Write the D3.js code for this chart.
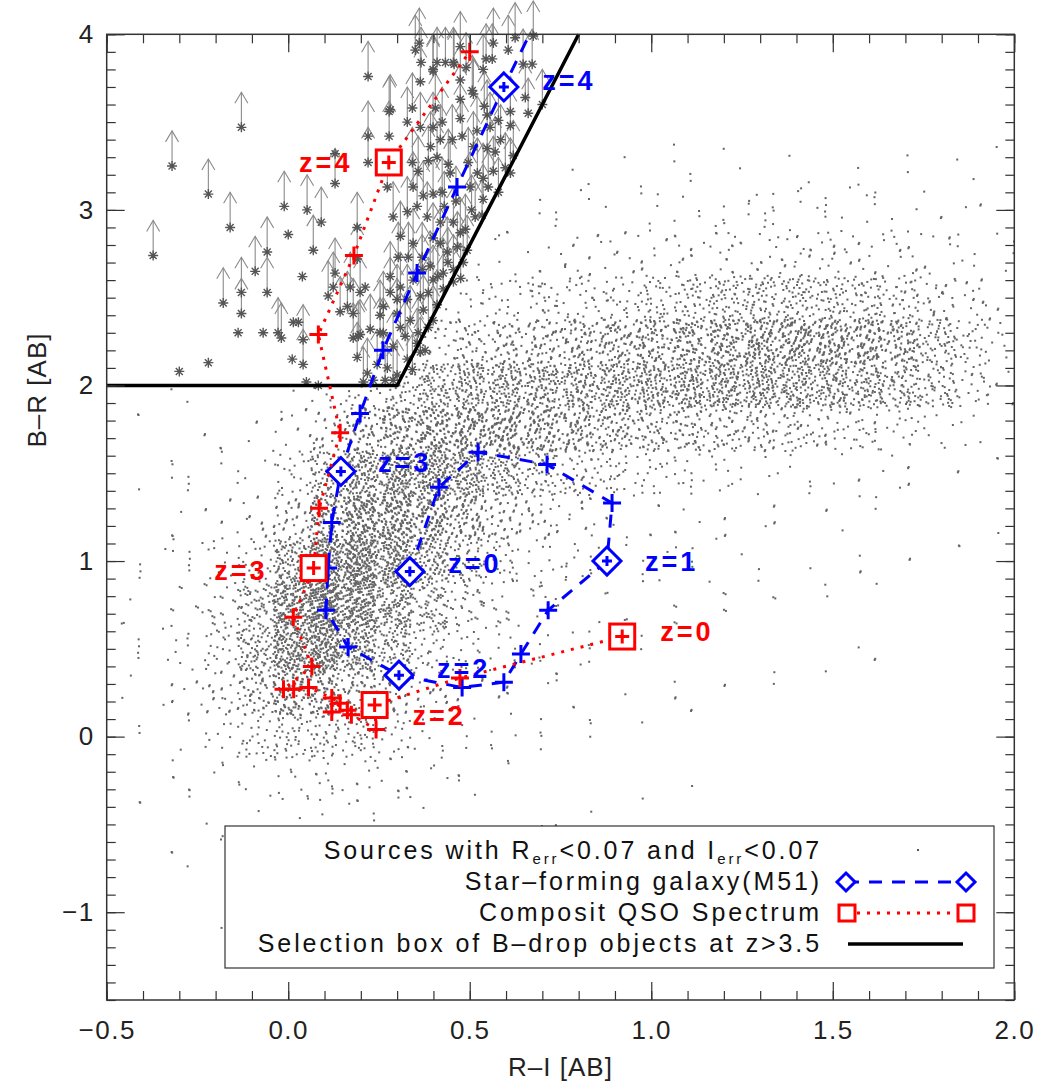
<!DOCTYPE html>
<html>
<head>
<meta charset="utf-8">
<script src="https://cdn.jsdelivr.net/npm/d3@7"></script>
<style>
  body { margin: 0; background: #fff; }
  svg { display: block; }
  .tick text { font-family: "Liberation Sans", "DejaVu Sans", sans-serif; fill: #222; }
</style>
</head>
<body>
<svg id="chart" width="1040" height="1086"></svg>
<script>
// B-drop selection: R-I vs B-R colour-colour diagram

// background sources: counts per bin (bin width 0.1 in R-I, 0.25 in B-R)
const cloudBinRI = [-0.5,-0.4,-0.3,-0.2,-0.1,0.0,0.1,0.2,0.3,0.4,0.5,0.6,0.7,0.8,0.9,1.0,1.1,1.2,1.3,1.4,1.5,1.6,1.7,1.8,1.9];
const cloudBinBR = [3.0,2.75,2.5,2.25,2.0,1.75,1.5,1.25,1.0,0.75,0.5,0.25,0.0,-0.25,-0.5,-0.75,-1.0];
const cloudCounts = [
  [0,0,0,0,0,0,0,0,0,0,0,1,2,2,3,3,3,4,4,4,4,3,3,3,2],
  [0,0,0,0,0,0,0,0,0,0,0,3,4,5,6,7,7,8,8,8,7,6,5,5,3],
  [0,0,0,0,0,0,0,0,0,0,8,10,12,12,15,18,20,22,25,25,22,18,14,10,6],
  [0,0,0,0,0,0,0,0,0,15,28,30,35,42,50,65,80,95,100,95,85,75,55,30,12],
  [0,0,0,0,0,0,0,0,28,65,80,90,100,115,130,150,170,185,190,180,165,140,100,55,18],
  [1,1,2,2,3,10,28,65,120,145,150,145,135,125,115,105,95,85,70,55,42,35,22,10,4],
  [1,2,2,3,6,20,65,135,180,180,150,100,70,48,32,22,16,12,9,7,5,4,3,2,1],
  [1,2,3,5,10,45,150,210,195,150,80,40,22,12,8,6,5,4,3,3,2,2,1,1,1],
  [1,2,5,8,20,90,240,240,165,100,48,20,12,7,5,4,3,3,2,2,2,1,1,1,1],
  [2,3,8,20,60,250,280,190,115,55,22,12,7,5,3,2,2,2,2,1,1,1,1,1,0],
  [2,5,10,32,120,300,230,130,65,28,12,7,5,3,2,2,2,1,1,1,1,1,0,0,0],
  [2,5,14,40,130,190,130,72,35,15,9,6,3,2,2,2,1,1,1,1,1,0,0,0,0],
  [1,3,8,20,55,75,62,40,18,10,6,3,2,2,1,1,1,1,1,0,0,0,0,0,0],
  [1,2,3,7,15,20,18,13,7,5,3,2,1,1,1,1,0,0,0,0,0,0,0,0,0],
  [1,1,2,3,4,5,5,4,3,2,1,1,1,1,0,0,0,0,0,0,0,0,0,0,0],
  [0,1,1,1,2,2,2,2,1,1,1,1,0,0,0,0,0,0,0,0,0,0,0,0,0],
  [0,0,1,1,1,1,1,1,1,1,0,1,0,0,0,0,0,0,0,0,0,0,0,0,0]
];

// B-drop candidates (B undetected -> lower limits in B-R)
const limitStars = [
  [-0.372,2.74],[-0.320,3.25],[-0.220,3.09],[-0.160,2.90],[-0.129,3.47],[-0.179,2.47],
  [-0.129,2.53],[-0.129,2.41],[-0.091,2.65],[-0.058,2.76],[-0.058,2.53],[-0.011,3.02],
  [0.052,3.00],[0.091,2.93],[0.069,2.77],[0.129,3.15],[0.220,3.76],[0.220,3.42],
  [0.220,3.27],[0.278,3.56],[0.278,3.42],[-0.028,2.30],[-0.019,2.27],[0.041,2.26],
  [0.041,2.12],[0.110,2.51],[0.129,2.64],[0.143,2.42],[0.179,2.41],[0.190,2.90],
  [0.193,2.28],[0.190,2.16],[0.218,2.07],[0.262,2.30],[0.273,3.13],[0.289,2.96],
  [0.309,2.85],[0.171,2.56],[0.198,2.53],[0.163,2.45],[0.124,2.56],[0.190,2.72],
  [0.198,2.29],[0.226,2.32],[0.179,2.27],[0.245,2.12],[0.273,2.10],[0.300,2.06],
  [0.207,2.02],[0.267,2.03],[0.289,2.03],[0.328,2.15],[0.342,2.09],[0.364,2.19],
  [0.281,2.53],[0.300,2.49],[0.328,2.49],[0.364,2.51],[0.386,2.53],[0.410,2.46],
  [0.427,2.55],[0.262,2.45],[0.253,2.40],[0.300,2.41],[0.336,2.37],[0.372,2.43],
  [0.399,2.37],[0.309,2.33],[0.358,2.30],[0.386,2.33],[0.289,2.22],[0.322,2.28],
  [0.355,2.24],[0.253,2.30],[0.281,2.62],[0.309,2.56],[0.344,2.60],[0.369,2.66],
  [0.399,2.60],[0.427,2.64],[0.455,2.66],[0.455,2.59],[0.391,2.68],[0.331,2.73],
  [0.303,2.73],[0.482,2.70],[0.344,2.81],[0.369,2.73],[0.399,2.84],[0.419,2.81],
  [0.438,2.76],[0.466,2.79],[0.474,2.87],[0.493,2.77],[0.328,2.99],[0.355,3.02],
  [0.383,2.96],[0.419,2.93],[0.455,2.93],[0.488,2.89],[0.515,2.96],[0.534,2.97],
  [0.344,3.13],[0.372,3.08],[0.399,3.09],[0.424,3.10],[0.501,3.13],[0.551,3.13],
  [0.537,3.06],[0.579,3.10],[0.342,3.27],[0.358,3.22],[0.386,3.28],[0.410,3.30],
  [0.441,3.26],[0.446,3.21],[0.496,3.27],[0.521,3.21],[0.537,3.18],[0.565,3.22],
  [0.598,3.24],[0.612,3.21],[0.419,3.40],[0.479,3.42],[0.510,3.36],[0.548,3.35],
  [0.570,3.33],[0.620,3.31],[0.328,3.50],[0.364,3.47],[0.399,3.47],[0.424,3.50],
  [0.474,3.52],[0.556,3.47],[0.612,3.48],[0.579,3.51],[0.281,3.57],[0.342,3.58],
  [0.405,3.58],[0.474,3.63],[0.510,3.66],[0.540,3.59],[0.548,3.54],[0.653,3.64],
  [0.661,3.55],[0.700,3.60],[0.612,3.56],[0.507,3.68],[0.364,3.73],[0.474,3.74],
  [0.399,3.80],[0.410,3.84],[0.433,3.84],[0.455,3.84],[0.490,3.81],[0.537,3.80],
  [0.545,3.86],[0.562,3.86],[0.606,3.91],[0.647,3.83],[0.672,3.83],[0.350,3.91],
  [0.366,3.84],[0.361,3.95],[0.474,3.93],[0.565,3.95],[0.625,3.98],[0.675,3.99],
  [0.457,3.83],[0.399,3.79],[0.430,3.02],[0.462,3.05],[0.505,3.00],[0.452,3.40],
  [0.392,3.36],[0.520,3.45],[0.585,3.40],[0.440,2.70],[0.412,2.62],[0.475,2.61]
];
// candidates detected in B
const detectedStars = [
  [0.000,2.86],[0.129,3.32],[0.039,2.62],[-0.138,2.30],[-0.069,2.30],[0.014,2.36],
  [0.028,2.36],[0.011,2.15],[-0.220,2.13],[-0.300,2.08],[0.050,2.02],[0.083,2.00],
  [0.212,2.56],[0.234,2.03],[0.377,2.20]
];

// selection box of B-drop objects at z>3.5
const boxRI = [-0.5, 0.3, 0.8];
const boxBR = [2.0, 2.0, 4.0];

// star-forming galaxy (M51) track, z = 0 ... 4.2 in steps of 0.2
const m51Z  = [0,0.2,0.4,0.6,0.8,1,1.2,1.4,1.6,1.8,2,2.2,2.4,2.6,2.8,3,3.2,3.4,3.6,3.8,4,4.2];
const m51RI = [0.335,0.415,0.523,0.713,0.892,0.878,0.716,0.641,0.594,0.479,0.305,0.165,0.104,0.110,0.120,0.145,0.198,0.261,0.355,0.465,0.594,0.700];
const m51BR = [0.94,1.42,1.62,1.55,1.33,1.00,0.72,0.47,0.31,0.28,0.35,0.51,0.72,0.96,1.22,1.51,1.84,2.20,2.64,3.13,3.70,4.15];

// composite QSO track (squares at labelled redshifts)
const qsoRI  = [0.92,0.473,0.238,0.242,0.174,0.163,0.120,0.143,0.120,0.056,0.015,-0.013,0.065,0.014,0.07,0.085,0.143,0.083,0.181,0.277,0.50];
const qsoBR  = [0.57,0.334,0.18,0.04,0.125,0.15,0.14,0.19,0.22,0.28,0.27,0.27,0.40,0.68,0.96,1.30,1.73,2.29,2.74,3.27,3.90];
const qsoBox = [1,0,1,0,0,0,0,0,0,0,0,0,0,0,1,0,0,0,0,1,0];

// redshift annotations
const m51Labels = [["z=4",0.70,3.74],["z=3",0.247,1.56],["z=0",0.441,0.99],["z=1",0.983,1.00],["z=2",0.410,0.39]];
const qsoLabels = [["z=4",0.030,3.27],["z=3",-0.204,0.95],["z=0",1.025,0.60],["z=2",0.342,0.12]];

const xMajor = [-0.5,0,0.5,1,1.5,2];
const yMajor = [-1,0,1,2,3,4];

const BLUE = "#0000ff", RED = "#ff0000";
const svg = d3.select("#chart");
const x = d3.scaleLinear().domain([-0.5, 2.0]).range([106.7, 1014.3]);
const y = d3.scaleLinear().domain([-1.5, 4.0]).range([1000, 34.3]);
const [L, R] = x.range(), [B, T] = y.range();

svg.append("defs").append("clipPath").attr("id", "plotclip")
  .append("rect").attr("x", L).attr("y", T).attr("width", R - L).attr("height", B - T);

// ---- background cloud: spread each bin's count with a rotated Halton sequence
function halton(i, b) {
  let f = 1, r = 0;
  while (i > 0) { f /= b; r += f * (i % b); i = Math.floor(i / b); }
  return r;
}
const frac = v => v - Math.floor(v);
const inBox = (ri, br) => br > 2.0 && ri < 0.3 + (br - 2.0) * 0.25;
const cloud = [];
cloudCounts.forEach((row, r) => {
  row.forEach((n, c) => {
    const cell = r * 25 + c + 1;
    const su = halton(cell, 5), sv = halton(cell, 7);
    for (let k = 1; k <= n; k++) {
      const u = frac(halton(k, 2) + su), v = frac(halton(k, 3) + sv);
      const ri = cloudBinRI[c] + (u * 1.8 - 0.4) * 0.1;
      const br = cloudBinBR[r] + (v * 2.0 - 0.5) * 0.25;
      if (inBox(ri, br)) continue;
      if (ri < -0.5 || ri > 2.0 || br < -1.5 || br > 4.0) continue;
      cloud.push([ri, br]);
    }
  });
});
svg.append("g").attr("clip-path", "url(#plotclip)")
  .selectAll("rect").data(cloud).join("rect")
  .attr("x", d => x(d[0]) - 1).attr("y", d => y(d[1]) - 1)
  .attr("width", 2).attr("height", 2).attr("fill", "#646464");

// ---- candidates
const arrowLen = 0.2;
const gArr = svg.append("g").attr("stroke", "#8a8a8a").attr("stroke-width", 1.1).attr("fill", "none");
limitStars.forEach(d => {
  const px = x(d[0]), py = y(d[1]), ty = y(d[1] + arrowLen);
  gArr.append("line").attr("x1", px).attr("y1", py).attr("x2", px).attr("y2", ty);
  gArr.append("path").attr("d", `M${px - 6.5},${ty + 11}L${px},${ty}L${px + 6.5},${ty + 11}`);
});
function asterisk(g, px, py) {
  const r = 5;
  g.append("path").attr("d",
    `M${px - r},${py}H${px + r}M${px},${py - r}V${py + r}` +
    `M${px - r * 0.7},${py - r * 0.7}L${px + r * 0.7},${py + r * 0.7}` +
    `M${px - r * 0.7},${py + r * 0.7}L${px + r * 0.7},${py - r * 0.7}`);
}
const gStar = svg.append("g").attr("stroke", "#555").attr("stroke-width", 1.4).attr("fill", "none");
limitStars.concat(detectedStars).forEach(d => asterisk(gStar, x(d[0]), y(d[1])));

// ---- selection box
svg.append("path")
  .attr("d", d3.line().x(d => x(d[0])).y(d => y(d[1]))(boxRI.map((v, i) => [v, boxBR[i]])))
  .attr("fill", "none").attr("stroke", "#000").attr("stroke-width", 3.5);

// ---- tracks
function plus(g, px, py, s, col) {
  g.append("path").attr("d", `M${px - s},${py}H${px + s}M${px},${py - s}V${py + s}`)
    .attr("stroke", col).attr("stroke-width", 3).attr("fill", "none");
}
function diamond(g, px, py, s, col) {
  g.append("path").attr("d", `M${px},${py - s}L${px + s},${py}L${px},${py + s}L${px - s},${py}Z`)
    .attr("stroke", col).attr("stroke-width", 3).attr("fill", "#fff");
}
function square(g, px, py, s, col) {
  g.append("rect").attr("x", px - s).attr("y", py - s).attr("width", 2 * s).attr("height", 2 * s)
    .attr("stroke", col).attr("stroke-width", 3).attr("fill", "#fff");
}
const gTr = svg.append("g").attr("clip-path", "url(#plotclip)");
const lineGen = d3.line().x(d => x(d[0])).y(d => y(d[1]));

const m51Pts = m51RI.map((v, i) => [v, m51BR[i]]);
gTr.append("path").attr("d", lineGen(m51Pts)).attr("fill", "none")
  .attr("stroke", BLUE).attr("stroke-width", 3).attr("stroke-dasharray", "13,10");
m51Pts.forEach((d, i) => {
  const isInt = Math.abs(m51Z[i] - Math.round(m51Z[i])) < 1e-6;
  if (isInt) { diamond(gTr, x(d[0]), y(d[1]), 14, BLUE); plus(gTr, x(d[0]), y(d[1]), 5, BLUE); }
  else plus(gTr, x(d[0]), y(d[1]), 9, BLUE);
});

const qsoPts = qsoRI.map((v, i) => [v, qsoBR[i]]);
gTr.append("path").attr("d", lineGen(qsoPts)).attr("fill", "none")
  .attr("stroke", RED).attr("stroke-width", 3).attr("stroke-dasharray", "3,7");
qsoPts.forEach((d, i) => {
  if (qsoBox[i]) { square(gTr, x(d[0]), y(d[1]), 12.5, RED); plus(gTr, x(d[0]), y(d[1]), 7, RED); }
  else plus(gTr, x(d[0]), y(d[1]), 9, RED);
});

// ---- redshift labels
const lblFont = "'Liberation Sans', 'DejaVu Sans', sans-serif";
[[m51Labels, BLUE], [qsoLabels, RED]].forEach(([arr, col]) => {
  svg.append("g").selectAll("text").data(arr).join("text")
    .attr("x", d => x(d[1])).attr("y", d => y(d[2])).attr("dy", "0.36em")
    .attr("font-family", lblFont).attr("font-weight", "bold").attr("font-size", 27)
    .attr("letter-spacing", 3).attr("fill", col).text(d => d[0]);
});

// ---- axes (inward ticks on all four sides)
const xMinor = d3.range(-5, 21).map(i => i / 10);
const yMinor = d3.range(-15, 41).map(i => i / 10);
const fmtX = d3.format(".1f"), fmtY = d3.format("d");
function styleAxis(g) {
  g.select(".domain").remove();
  g.selectAll("line").attr("stroke", "#333").attr("stroke-width", 1.2);
  g.selectAll("text").attr("font-size", 26).attr("letter-spacing", 1.5);
}
svg.append("g").attr("transform", `translate(0,${B})`)
  .call(d3.axisBottom(x).tickValues(xMinor).tickSize(-9).tickFormat("")).call(styleAxis);
svg.append("g").attr("transform", `translate(0,${B})`)
  .call(d3.axisBottom(x).tickValues(xMajor).tickSize(-18).tickPadding(21).tickFormat(fmtX)).call(styleAxis);
svg.append("g").attr("transform", `translate(0,${T})`)
  .call(d3.axisTop(x).tickValues(xMinor).tickSize(-9).tickFormat("")).call(styleAxis);
svg.append("g").attr("transform", `translate(0,${T})`)
  .call(d3.axisTop(x).tickValues(xMajor).tickSize(-18).tickFormat("")).call(styleAxis);
svg.append("g").attr("transform", `translate(${L},0)`)
  .call(d3.axisLeft(y).tickValues(yMinor).tickSize(-9).tickFormat("")).call(styleAxis);
svg.append("g").attr("transform", `translate(${L},0)`)
  .call(d3.axisLeft(y).tickValues(yMajor).tickSize(-18).tickPadding(12).tickFormat(fmtY)).call(styleAxis);
svg.append("g").attr("transform", `translate(${R},0)`)
  .call(d3.axisRight(y).tickValues(yMinor).tickSize(-9).tickFormat("")).call(styleAxis);
svg.append("g").attr("transform", `translate(${R},0)`)
  .call(d3.axisRight(y).tickValues(yMajor).tickSize(-18).tickFormat("")).call(styleAxis);

svg.append("rect").attr("x", L).attr("y", T).attr("width", R - L).attr("height", B - T)
  .attr("fill", "none").attr("stroke", "#333").attr("stroke-width", 1.5);

const axFont = "'Liberation Sans', 'DejaVu Sans', sans-serif";
svg.append("text").attr("x", (L + R) / 2).attr("y", 1076).attr("text-anchor", "middle")
  .attr("font-family", axFont).attr("font-size", 26).attr("letter-spacing", 1).attr("fill", "#222").text("R\u2013I [AB]");
svg.append("text").attr("transform", "translate(46,390) rotate(-90)").attr("text-anchor", "middle")
  .attr("font-family", axFont).attr("font-size", 26).attr("letter-spacing", 1).attr("fill", "#222").text("B\u2013R [AB]");

// ---- legend
const leg = svg.append("g");
leg.append("rect").attr("x", 225).attr("y", 826).attr("width", 769).attr("height", 142)
  .attr("fill", "#fff").attr("stroke", "#333").attr("stroke-width", 1.2);
function legText(yy) {
  return leg.append("text").attr("x", 822).attr("y", yy).attr("font-family", axFont)
    .attr("font-size", 25).attr("letter-spacing", 2.9).attr("fill", "#111").attr("text-anchor", "end");
}
const t1 = legText(859);
t1.append("tspan").text("Sources with R");
t1.append("tspan").attr("font-size", 15).attr("dy", 5).text("err");
t1.append("tspan").attr("dy", -5).text("<0.07 and I");
t1.append("tspan").attr("font-size", 15).attr("dy", 5).text("err");
t1.append("tspan").attr("dy", -5).text("<0.07");
legText(890).text("Star\u2013forming galaxy(M51)");
legText(921).text("Composit QSO Spectrum");
legText(952).text("Selection box of B\u2013drop objects at z>3.5");

leg.append("rect").attr("x", 917).attr("y", 849).attr("width", 2).attr("height", 2).attr("fill", "#555");
leg.append("line").attr("x1", 846).attr("x2", 966).attr("y1", 882).attr("y2", 882)
  .attr("stroke", BLUE).attr("stroke-width", 3).attr("stroke-dasharray", "13,10");
diamond(leg, 846, 882, 9, BLUE); diamond(leg, 966, 882, 9, BLUE);
leg.append("line").attr("x1", 847).attr("x2", 966).attr("y1", 913).attr("y2", 913)
  .attr("stroke", RED).attr("stroke-width", 3).attr("stroke-dasharray", "3,7");
square(leg, 847, 913, 8, RED); square(leg, 966, 913, 8, RED);
leg.append("line").attr("x1", 848).attr("x2", 963).attr("y1", 944).attr("y2", 944)
  .attr("stroke", "#000").attr("stroke-width", 3.5);
</script>
</body>
</html>
